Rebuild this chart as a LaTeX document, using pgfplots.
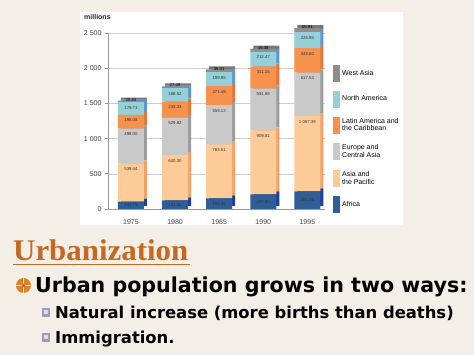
\documentclass[border=0pt]{standalone}
\usepackage{pgfplots}
\usepackage{pgfplotstable}
\pgfplotsset{compat=1.18}
\usepackage{fontspec}
\setmainfont{Liberation Sans}
\newfontfamily\titfont{Liberation Serif}
\newfontfamily\bulfont{DejaVu Sans}
\definecolor{bg}{HTML}{F3EFE6}
\definecolor{titc}{HTML}{C4691F}
\definecolor{cAf}{HTML}{2F5E97}
\definecolor{cAfS}{HTML}{1E3FA0}
\definecolor{cAs}{HTML}{FDCB98}
\definecolor{cAsS}{HTML}{F7A066}
\definecolor{cEu}{HTML}{C9C9C9}
\definecolor{cEuS}{HTML}{9C9C9C}
\definecolor{cLa}{HTML}{F7914E}
\definecolor{cLaS}{HTML}{E2793A}
\definecolor{cNa}{HTML}{95CFD8}
\definecolor{cNaS}{HTML}{5D95D6}
\definecolor{cWa}{HTML}{8D8D8D}
\definecolor{cWaS}{HTML}{777777}
\definecolor{bul}{HTML}{D9822B}
\definecolor{sq}{HTML}{9C9CBC}

\pgfplotstableread{
x Africa Asia Europe Latin North West
0 104.75 539.44 498.00 195.08 179.71 20.83
1 123.30 640.30 529.82 233.33 188.52 27.49
2 151.46 763.61 559.13 271.48 199.95 36.31
3 207.90 909.81 591.69 311.15 212.47 46.38
4 251.15 1067.39 617.53 349.60 225.95 55.91
}\urb

\pgfplotsset{urbbase/.style={anchor=south west, width=217pt, height=176pt,
  scale only axis, xmin=-0.52, xmax=4.4, ymin=0, ymax=2500, clip=false}}

\begin{document}
\begin{tikzpicture}[x=1pt,y=1pt]
\fill[bg] (0,0) rectangle (474,355);
\fill[white] (80,130) rectangle (403,343);

% grid
\begin{axis}[urbbase, at={(108pt,146pt)},
  axis line style={draw=none}, xtick=\empty,
  ytick={0,500,...,2500}, yticklabels={}, major tick length=0pt,
  ymajorgrids, grid style={gray!40, line width=0.5pt}]
\addplot[draw=none] coordinates {(0,0)};
\end{axis}

% side faces (3D)
\begin{axis}[urbbase, at={(111pt,149pt)}, hide axis,
  ybar stacked, bar width=26pt]
\addplot[fill=cAfS, draw=none] table[x=x,y=Africa]{\urb};
\addplot[fill=cAsS, draw=none] table[x=x,y=Asia]{\urb};
\addplot[fill=cEuS, draw=none] table[x=x,y=Europe]{\urb};
\addplot[fill=cLaS, draw=none] table[x=x,y=Latin]{\urb};
\addplot[fill=cNaS, draw=none] table[x=x,y=North]{\urb};
\addplot[fill=cWaS, draw=none] table[x=x,y=West]{\urb};
\end{axis}

% front
\begin{axis}[urbbase, at={(108pt,146pt)},
  ybar stacked, bar width=26pt,
  axis x line*=bottom, axis y line*=left,
  axis line style={gray!80, line width=0.6pt},
  xtick=data, xticklabels={1975,1980,1985,1990,1995},
  x tick style={draw=none},
  xticklabel style={font=\fontsize{7}{8}\selectfont, text=black!75, yshift=-4pt},
  ytick={0,500,...,2500},
  tick align=outside, major tick length=3pt,
  y tick style={gray!80, line width=0.6pt},
  yticklabel style={font=\fontsize{7}{8}\selectfont, text=black!75},
  /pgf/number format/assume math mode=true,
  /pgf/number format/1000 sep={\ },
  legend style={at={(1.037,0.818)}, anchor=north west, draw=none, fill=none,
    inner sep=0pt, row sep=8.4pt, font=\fontsize{7}{7.7}\selectfont,
    cells={anchor=west, align=left},
    /tikz/every even column/.append style={column sep=1.5pt}},
  legend image code/.code={\fill[#1,draw=none] (0pt,-8.5pt) rectangle (7pt,8.5pt);},
  reverse legend]
\addplot[fill=cAf, draw=none] table[x=x,y=Africa]{\urb};
\addplot[fill=cAs, draw=none] table[x=x,y=Asia]{\urb};
\addplot[fill=cEu, draw=none] table[x=x,y=Europe]{\urb};
\addplot[fill=cLa, draw=none] table[x=x,y=Latin]{\urb};
\addplot[fill=cNa, draw=none] table[x=x,y=North]{\urb};
\addplot[fill=cWa, draw=none] table[x=x,y=West]{\urb};
\legend{Africa, {Asia and\\the Pacific}, {Europe and\\Central Asia}, {Latin America and\\the Caribbean}, North America, West Asia}
\end{axis}

% value labels
\begin{axis}[urbbase, at={(108pt,146pt)}, hide axis,
  /pgf/number format/assume math mode=true,
  point meta=explicit,
  nodes near coords={\pgfmathprintnumber[fixed,fixed zerofill,precision=2,1000 sep={\ }]{\pgfplotspointmeta}},
  nodes near coords align={anchor=center},
  every node near coord/.append style={font=\fontsize{4.3}{5}\selectfont, text=black!80, inner sep=0pt, anchor=center, yshift=-5.5pt}]
\addplot[draw=none, mark=none, every node near coord/.append style={yshift=5.5pt}] table[x=x, y expr={\thisrow{Africa}/2}, meta=Africa]{\urb};
\addplot[draw=none, mark=none] table[x=x, y expr={\thisrow{Africa}+\thisrow{Asia}}, meta=Asia]{\urb};
\addplot[draw=none, mark=none] table[x=x, y expr={\thisrow{Africa}+\thisrow{Asia}+\thisrow{Europe}}, meta=Europe]{\urb};
\addplot[draw=none, mark=none] table[x=x, y expr={\thisrow{Africa}+\thisrow{Asia}+\thisrow{Europe}+\thisrow{Latin}}, meta=Latin]{\urb};
\addplot[draw=none, mark=none] table[x=x, y expr={\thisrow{Africa}+\thisrow{Asia}+\thisrow{Europe}+\thisrow{Latin}+\thisrow{North}}, meta=North]{\urb};
\addplot[draw=none, mark=none, every node near coord/.append style={yshift=6.3pt, text=black}] table[x=x, y expr={\thisrow{Africa}+\thisrow{Asia}+\thisrow{Europe}+\thisrow{Latin}+\thisrow{North}+\thisrow{West}}, meta=West]{\urb};
\end{axis}

\node[anchor=west, inner sep=0pt, font=\bfseries\fontsize{7}{8}\selectfont, text=black!85] at (84,338) {millions};

% slide text
\node[anchor=base west, inner sep=0pt, text=titc, xscale=1.03] at (13,94.3) {\titfont\bfseries\fontsize{30}{32}\selectfont Urbanization};
\draw[titc, line width=1.6pt] (13,90.3) -- (190,90.3);

\fill[bul] (23.5,69.5) circle (7.5);
\draw[white!75!bul, line width=1.1pt] (16,69.5) -- (31,69.5) (23.5,62) -- (23.5,77);
\fill[bul!85!black] (23.5,69.5) circle (1.8);
\node[anchor=base west, inner sep=0pt] at (35,62.3) {\bulfont\bfseries\fontsize{20.6}{24}\selectfont Urban population grows in two ways:};

\fill[sq] (41.8,38.3) rectangle (50.2,46.7);
\fill[white!65!sq] (44,40.5) rectangle (48,44.5);
\node[anchor=base west, inner sep=0pt] at (55,36.7) {\bulfont\bfseries\fontsize{16.4}{20}\selectfont Natural increase (more births than deaths)};

\fill[sq] (41.8,13.3) rectangle (50.2,21.7);
\fill[white!65!sq] (44,15.5) rectangle (48,19.5);
\node[anchor=base west, inner sep=0pt] at (55,11) {\bulfont\bfseries\fontsize{16.4}{20}\selectfont Immigration.};
\end{tikzpicture}
\end{document}
